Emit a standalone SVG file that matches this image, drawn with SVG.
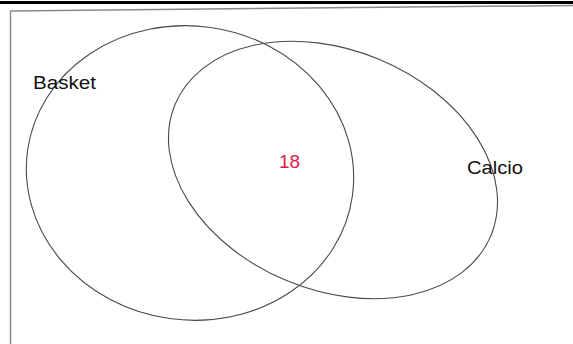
<svg xmlns="http://www.w3.org/2000/svg" width="573" height="344" viewBox="0 0 573 344">
<style>
.set{fill:none;stroke:#4a4a4a;stroke-width:1.1}
.lbl{font-family:"Liberation Sans",Arial,sans-serif;font-size:19px;fill:#111}
.num{font-family:"Liberation Sans",Arial,sans-serif;font-size:19px;fill:#e0184a}
</style>
<rect x="0" y="0" width="573" height="344" fill="#ffffff"/>
<g id="frame">
<line x1="0" y1="2.5" x2="573" y2="2.5" stroke="#000" stroke-width="3"/>
<line x1="10" y1="11" x2="573" y2="5.5" stroke="#8a8a8a" stroke-width="1.5"/>
<line x1="10.5" y1="11" x2="10.5" y2="344" stroke="#8a8a8a" stroke-width="1.5"/>
</g>
<g id="basket">
<ellipse class="set" cx="190" cy="173" rx="164" ry="147" transform="rotate(8 190 173)"/>
<text class="lbl" x="33" y="89" textLength="63" lengthAdjust="spacingAndGlyphs">Basket</text>
</g>
<g id="calcio">
<ellipse class="set" cx="333" cy="170" rx="171" ry="120" transform="rotate(22.5 333 170)"/>
<text class="lbl" x="467" y="174" textLength="56" lengthAdjust="spacingAndGlyphs">Calcio</text>
</g>
<g id="intersection">
<text class="num" x="279" y="168">18</text>
</g>
<g id="connectors"></g>
</svg>
